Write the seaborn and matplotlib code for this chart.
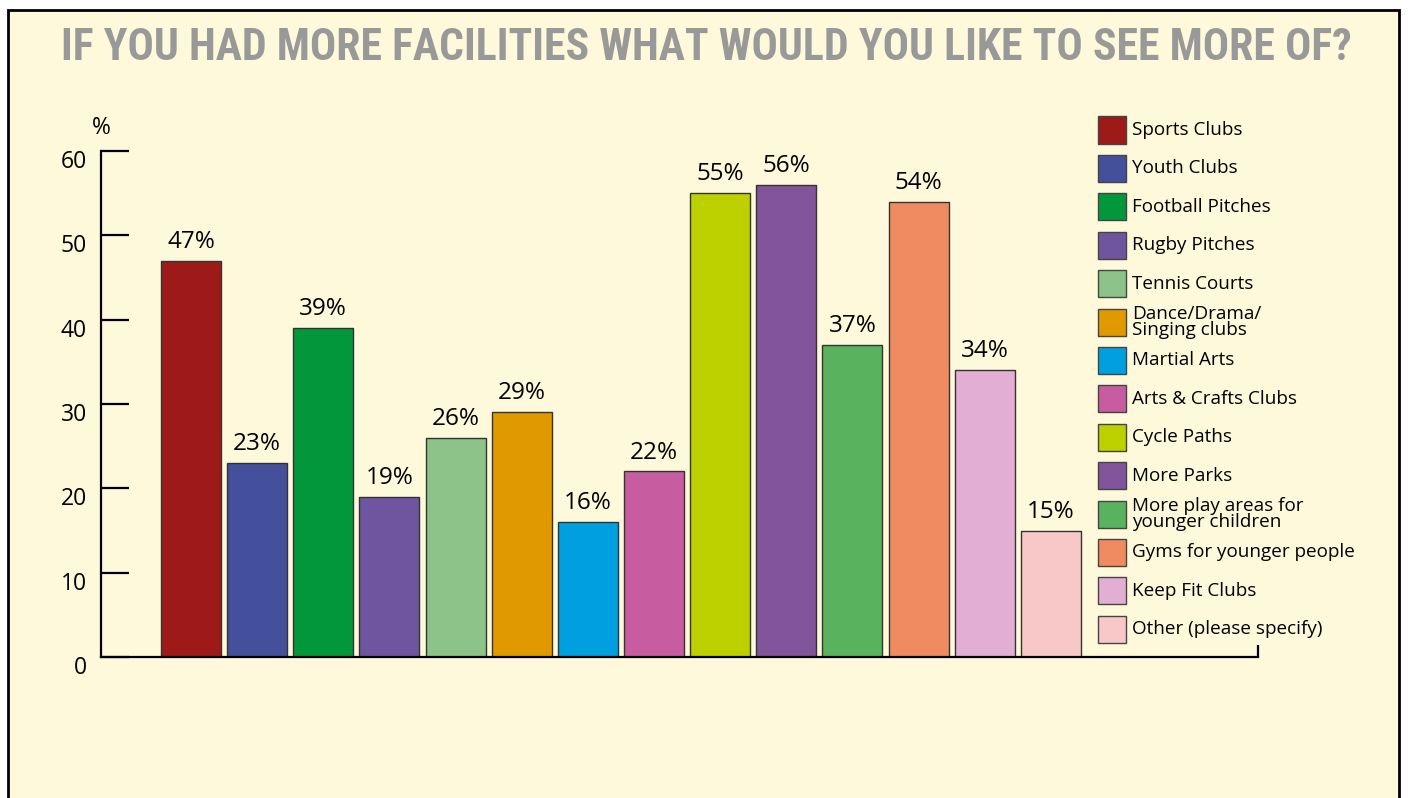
import pandas as pd
import seaborn as sns
import matplotlib
matplotlib.use('Agg')
import matplotlib.pyplot as plt
from matplotlib import font_manager
from matplotlib.patches import Rectangle
from matplotlib.transforms import ScaledTranslation

facilities = ['Sports Clubs', 'Youth Clubs', 'Football Pitches', 'Rugby Pitches',
              'Tennis Courts', 'Dance/Drama/\nSinging clubs', 'Martial Arts',
              'Arts & Crafts Clubs', 'Cycle Paths', 'More Parks',
              'More play areas for\nyounger children', 'Gyms for younger people',
              'Keep Fit Clubs', 'Other (please specify)']
percent = [47, 23, 39, 19, 26, 29, 16, 22, 55, 56, 37, 54, 34, 15]
colours = ['#9E1A18', '#45509C', '#03973B', '#6F55A0', '#8CC388', '#E09A00', '#00A0E0',
           '#C85CA0', '#BDD000', '#82549B', '#58B25E', '#F08A60', '#E2AED3', '#F8C8C8']
y_ticks = [0, 10, 20, 30, 40, 50, 60]

# pick what is installed
names = {f.name for f in font_manager.fontManager.ttflist}
body_font = next((n for n in ['Open Sans', 'Noto Sans', 'Lato'] if n in names), 'DejaVu Sans')
title_font = next((n for n in ['Roboto Condensed', 'Liberation Sans Narrow', 'Open Sans'] if n in names), 'DejaVu Sans')

sns.set_style('white')
plt.rcParams['font.family'] = [body_font, 'DejaVu Sans']
plt.rcParams['text.color'] = 'black'
plt.rcParams['ytick.color'] = 'black'
plt.rcParams['ytick.labelcolor'] = 'black'

W, H = 1410, 798
fig = plt.figure(figsize=(W / 100, H / 100), dpi=100)
fig.patch.set_facecolor('white')
bg = '#FEF9DA'
fig.patches.append(Rectangle((8 / W, -0.1), (1399 - 8) / W, 1.1 - 10 / H,
                             transform=fig.transFigure, facecolor=bg,
                             edgecolor='black', lw=2, zorder=-1))

ax = fig.add_axes([101 / W, 1 - 657 / H, (1258 - 101) / W, (657 - 151) / H])
ax.set_facecolor('none')

df = pd.DataFrame({'facility': facilities, 'pct': percent})
sns.barplot(data=df, x='facility', y='pct', hue='facility', palette=colours,
            saturation=1, legend=False, width=0.907, edgecolor='#333333',
            linewidth=1, ax=ax)

for c in ax.containers:
    ax.bar_label(c, fmt='%d%%', padding=5, fontsize=17.5, color='black')

x_right = 16.13
ax.set_xlim(-1.36, x_right)
ax.set_ylim(0, 60)
ax.set_yticks(y_ticks)
ax.set_xticks([x_right])
ax.set_xticklabels([''])
ax.set_xlabel('')
ax.set_ylabel('')
sns.despine(ax=ax)
for s in ['left', 'bottom']:
    ax.spines[s].set_linewidth(1.6)
    ax.spines[s].set_color('black')
ax.tick_params(axis='y', direction='in', left=True, length=20, width=1.6, pad=10,
               labelsize=16.5, colors='black')
ax.tick_params(axis='x', direction='in', length=9, width=1.6, bottom=True, colors='black')

# labels in the original sit a little below their ticks
shift = ScaledTranslation(0, -8 / 100, fig.dpi_scale_trans)
for lab in ax.get_yticklabels():
    lab.set_transform(lab.get_transform() + shift)

fig.text(101 / W, 1 - 128 / H, '%', ha='center', va='center', fontsize=16.5)

fig.text(706 / W, 1 - 48 / H, 'IF YOU HAD MORE FACILITIES WHAT WOULD YOU LIKE TO SEE MORE OF?',
         ha='center', va='center', fontsize=31.5, fontweight='bold', color='#999999',
         family=[title_font, 'DejaVu Sans'])

# legend drawn by hand so rows stay evenly spaced
for i, (lab, col) in enumerate(zip(facilities, colours)):
    yc = 130 + i * 38.4
    fig.patches.append(Rectangle((1098 / W, 1 - (yc + 13.5) / H), 28 / W, 27 / H,
                                 transform=fig.transFigure, facecolor=col,
                                 edgecolor='#444444', lw=1))
    fig.text(1132 / W, 1 - yc / H, lab, ha='left', va='center', fontsize=13.6,
             linespacing=0.92)

plt.savefig('out.png', dpi=100)
